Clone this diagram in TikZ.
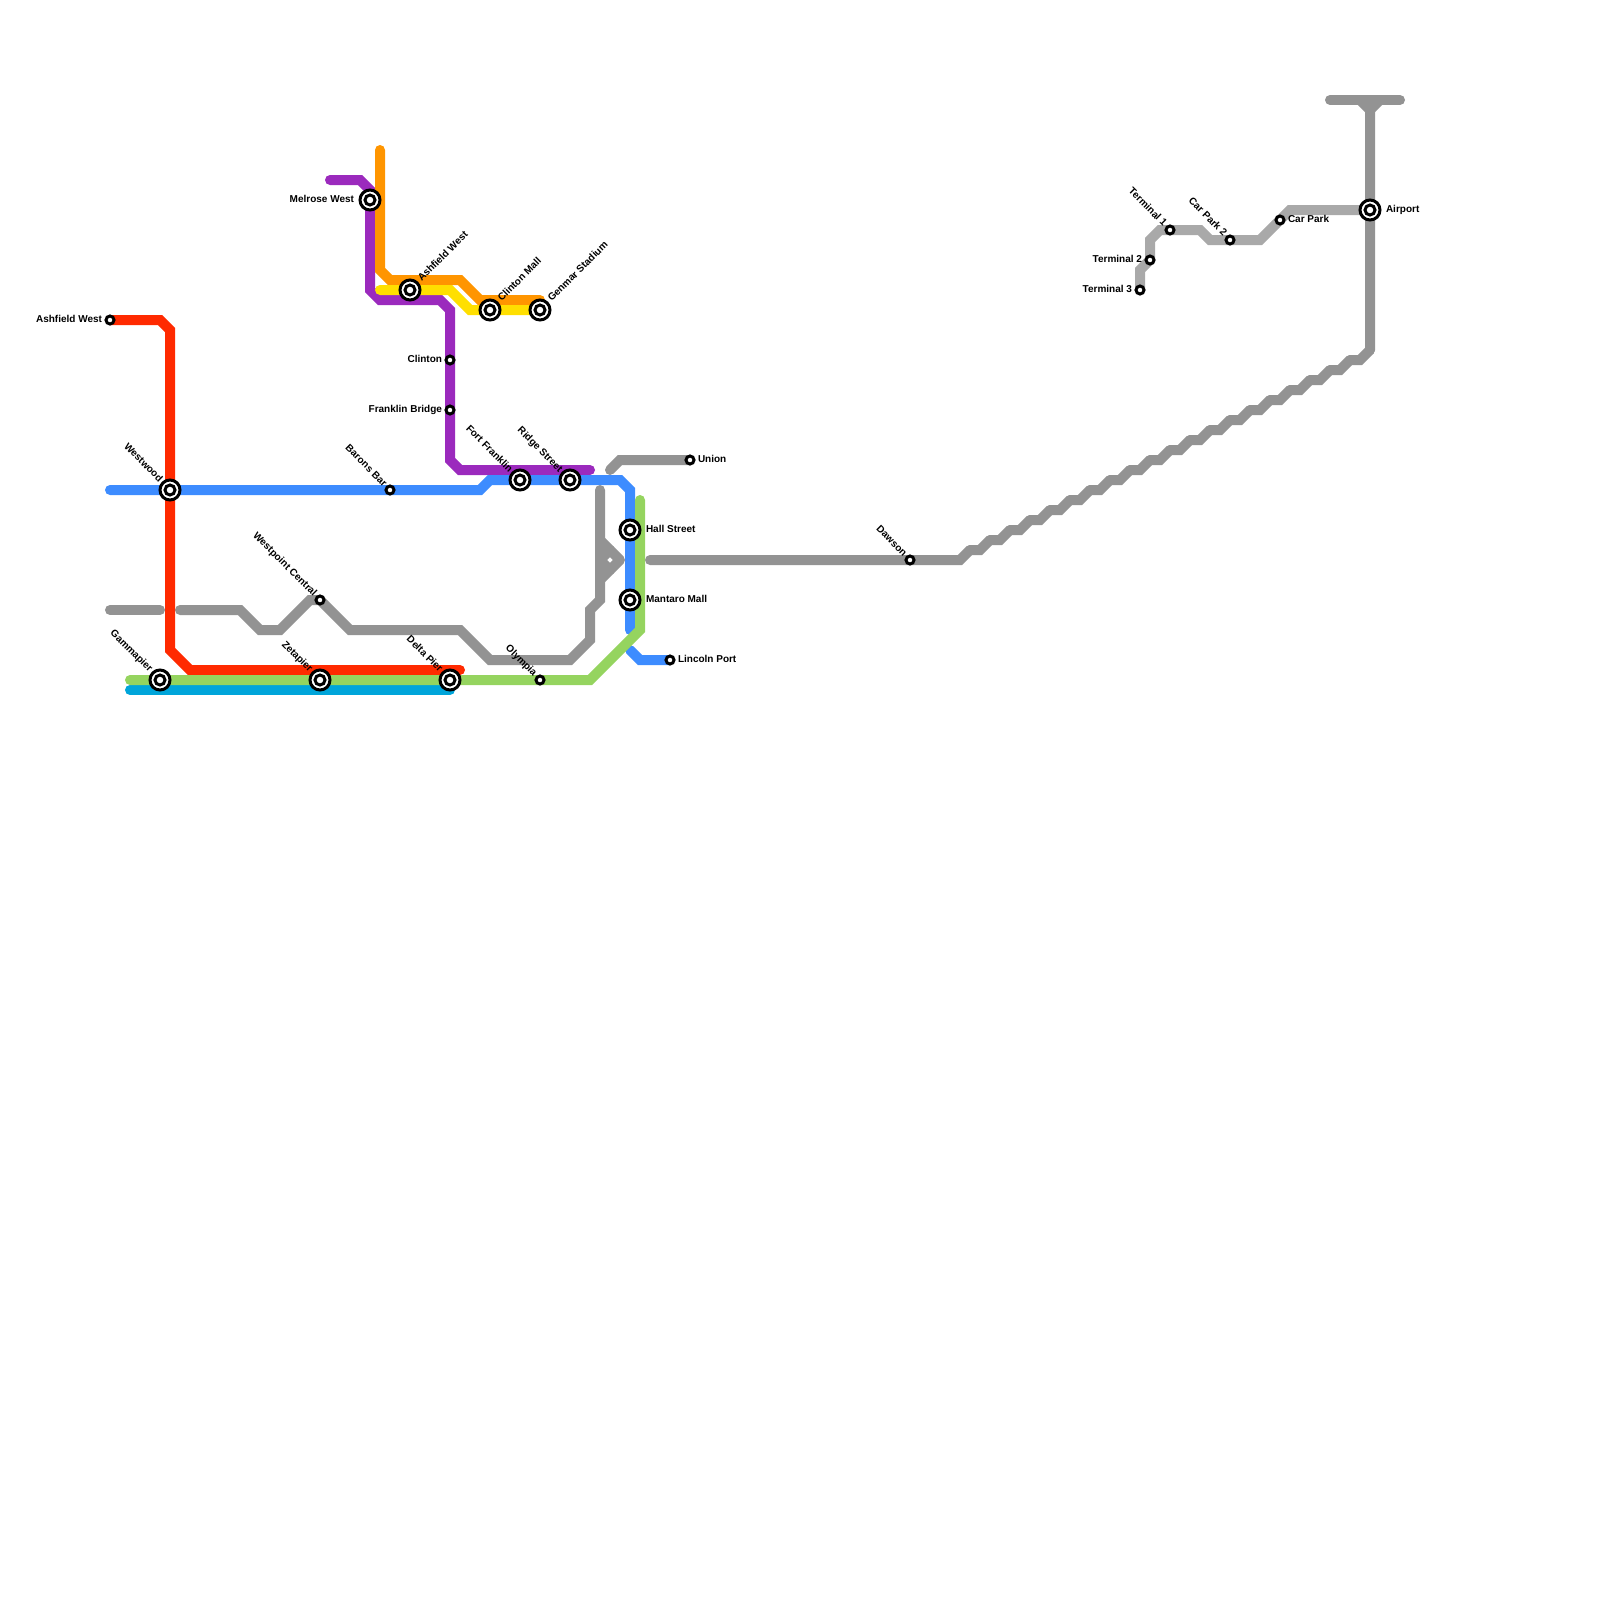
\documentclass[tikz,border=0pt]{standalone}
\usepackage{fontspec}
\setmainfont{Liberation Sans}
\usetikzlibrary{backgrounds}
\definecolor{redline}{HTML}{FF2A00}
\definecolor{blueline}{HTML}{3D8CFF}
\definecolor{greenline}{HTML}{95D45F}
\definecolor{cyanline}{HTML}{00A5DA}
\definecolor{purpleline}{HTML}{9B2ABD}
\definecolor{orangeline}{HTML}{FF9500}
\definecolor{yellowline}{HTML}{FFDF00}
\definecolor{greyline}{HTML}{939393}
\definecolor{paleline}{HTML}{A9A9A9}
\tikzset{
  route/.style={line width=0.25cm,line cap=round,line join=miter},
  lbl/.style={font=\bfseries\fontsize{7.11}{8}\selectfont,text height=5.2pt,text depth=1.4pt,inner sep=0.1cm,outer sep=0pt,text=black},
  hublbl/.style={lbl,inner sep=0.15cm},
  upleft/.style={lbl,rotate=-45,anchor=east,inner sep=0.08cm},
  upright/.style={lbl,rotate=45,anchor=west,inner sep=0.1cm},
  stop/.style={circle,draw=black,line width=0.075cm,fill=white,inner sep=0pt,outer sep=0pt,minimum size=0.2cm},
  hub/.style={stop,minimum size=0.5cm,
    path picture={\draw[line width=0.075cm] (path picture bounding box.center) circle (0.125cm);}},
}
\begin{document}
\begin{tikzpicture}[x=0.025cm,y=-0.025cm]
\useasboundingbox (0,0) rectangle (1600,1600);
% stations
\node[stop,label={[lbl]left:Ashfield West}] (ashfieldw) at (110,320) {};
\node[hub,label={[upleft]135:Westwood}] (westwood) at (170,490) {};
\node[hub,label={[upleft]135:Gammapier}] (gammapier) at (160,680) {};
\node[hub,label={[upleft]135:Zetapier}] (zetapier) at (320,680) {};
\node[hub,label={[upleft]135:Delta Pier}] (deltapier) at (450,680) {};
\node[stop,label={[upleft]135:Westpoint Central}] (westpoint) at (320,600) {};
\node[stop,label={[upleft]135:Barons Bar}] (barons) at (390,490) {};
\node[hub,label={[hublbl]left:Melrose West}] (melrose) at (370,200) {};
\node[hub,label={[upright]45:Ashfield West}] (ashfield) at (410,290) {};
\node[hub,label={[upright]45:Clinton Mall}] (clintonmall) at (490,310) {};
\node[hub,label={[upright]45:Genmar Stadium}] (genmar) at (540,310) {};
\node[stop,label={[lbl]left:Clinton}] (clinton) at (450,360) {};
\node[stop,label={[lbl]left:Franklin Bridge}] (franklin) at (450,410) {};
\node[hub,label={[upleft]135:Fort Franklin}] (fortfranklin) at (520,480) {};
\node[hub,label={[upleft]135:Ridge Street}] (ridge) at (570,480) {};
\node[hub,label={[hublbl]right:Hall Street}] (hall) at (630,530) {};
\node[hub,label={[hublbl]right:Mantaro Mall}] (mantaro) at (630,600) {};
\node[stop,label={[lbl]right:Lincoln Port}] (lincoln) at (670,660) {};
\node[stop,label={[lbl]right:Union}] (union) at (690,460) {};
\node[stop,label={[upleft]135:Olympia}] (olympia) at (540,680) {};
\node[stop,label={[upleft]135:Dawson}] (dawson) at (910,560) {};
\node[stop,label={[lbl]left:Terminal 3}] (term3) at (1140,290) {};
\node[stop,label={[lbl]left:Terminal 2}] (term2) at (1150,260) {};
\node[stop,label={[upleft]135:Terminal 1}] (term1) at (1170,230) {};
\node[stop,label={[upleft]135:Car Park 2}] (carpark2) at (1230,240) {};
\node[stop,label={[lbl]right:Car Park}] (carpark) at (1280,220) {};
\node[hub,label={[hublbl]right:Airport}] (airport) at (1370,210) {};
\begin{pgfonlayer}{background}
% grey lines
\draw[route,greyline] (110,610) -- (160,610);
\draw[route,greyline] (180,610) -- (240,610) -- (260,630) -- (280,630) -- (310,600) -- (westpoint.center) -- (350,630) -- (460,630) -- (490,660) -- (570,660) -- (590,640) -- (590,610) -- (600,600) -- (600,490);
\draw[route,greyline,line join=round] (600,540) -- (620,560) -- (600,580);
\draw[route,greyline,line join=round] (610,550) -- (600,560) -- (610,570);
\draw[route,greyline] (610,470) -- (620,460) -- (union.center);
\draw[route,greyline] (650,560) -- (dawson.center) -- (960,560) -- (970,550);
\foreach \k in {0,...,19}
  \draw[route,greyline] (970+20*\k,550-10*\k) -- ++(10,0) -- ++(10,-10);
\draw[route,greyline] (1370,350) -- (airport.center) -- (1370,110) -- (1360,100);
\draw[route,greyline] (1370,110) -- (1380,100);
\draw[route,greyline] (1330,100) -- (1400,100);
\draw[route,paleline] (term3.center) -- (1140,270) -- (term2.center) -- (1150,240) -- (1160,230) -- (term1.center) -- (1200,230) -- (1210,240) -- (carpark2.center) -- (1260,240) -- (1290,210) -- (airport.center);
% coloured lines
\draw[route,redline] (ashfieldw.center) -- (160,320) -- (170,330) -- (westwood.center) -- (170,650) -- (190,670) -- (460,670);
\draw[route,purpleline] (330,180) -- (360,180) -- (370,190) -- (melrose.center) -- (370,290) -- (380,300) -- (440,300) -- (450,310) -- (clinton.center) -- (franklin.center) -- (450,460) -- (460,470) -- (590,470);
\draw[route,orangeline] (380,150) -- (380,270) -- (390,280) -- (460,280) -- (480,300) -- (540,300);
\draw[route,yellowline] (380,290) -- (ashfield.center) -- (450,290) -- (470,310) -- (genmar.center);
\draw[route,blueline] (110,490) -- (barons.center) -- (480,490) -- (490,480) -- (ridge.center) -- (620,480) -- (630,490) -- (hall.center) -- (mantaro.center) -- (630,630);
\draw[route,blueline] (630,650) -- (640,660) -- (lincoln.center);
\draw[route,cyanline] (130,690) -- (450,690);
\draw[route,greenline] (130,680) -- (gammapier.center) -- (olympia.center) -- (590,680) -- (640,630) -- (640,500);
\end{pgfonlayer}
\end{tikzpicture}
\end{document}
